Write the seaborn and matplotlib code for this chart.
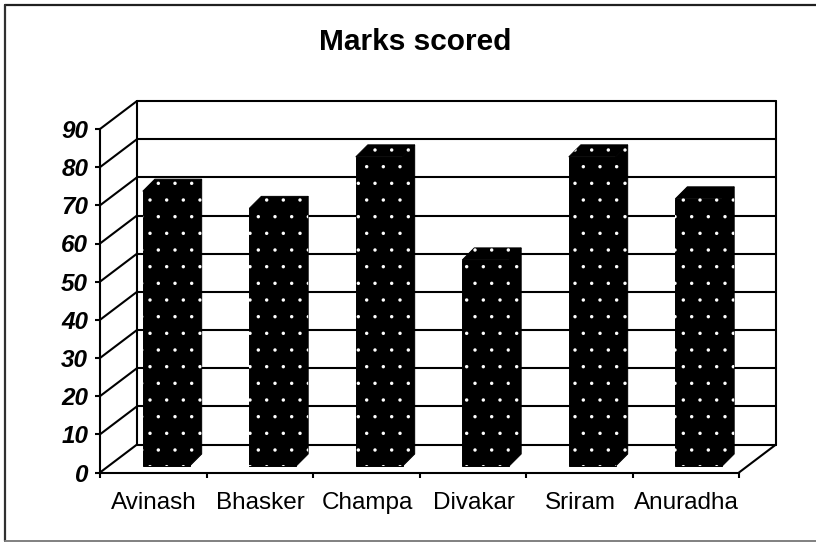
import matplotlib
matplotlib.use("Agg")
import matplotlib.pyplot as plt
from matplotlib.patches import Polygon
from matplotlib.lines import Line2D
from matplotlib.transforms import IdentityTransform
import pandas as pd
import seaborn as sns

names = ["Avinash", "Bhasker", "Champa", "Divakar", "Sriram", "Anuradha"]
marks = [72, 67.5, 81, 54, 81, 70]
y_ticks = [0, 10, 20, 30, 40, 50, 60, 70, 80, 90]
title_text = "Marks scored"

W, H = 816, 542
sns.set_theme(style="white", rc={"font.family": ["Liberation Sans", "DejaVu Sans"]})
plt.rcParams["hatch.color"] = "white"
plt.rcParams["hatch.linewidth"] = 0.05

fig = plt.figure(figsize=(W / 100, H / 100), dpi=100, facecolor="white")
L, R, T, B = 100, 739, 129, 472.5
ax = fig.add_axes([L / W, 1 - B / H, (R - L) / W, (B - T) / H])
ax.patch.set_alpha(0)

df = pd.DataFrame({"name": names, "marks": marks})
sns.barplot(data=df, x="name", y="marks", ax=ax, width=0.44, color="black",
            saturation=1, zorder=5)
ax.set_xlim(-0.5, 5.5)
ax.set_ylim(0, 90)
ax.set_xlabel("")
ax.set_ylabel("")

# depth offsets in pixels
WALL = (37, 28)
FRONT = (13, 6.5)
SIDE = (12, 12)

pt = ax.transData.transform
lw = 1.5
def seg(p, q, z=1, color="black", width=lw):
    fig.add_artist(Line2D([p[0], q[0]], [p[1], q[1]], color=color, lw=width,
                          transform=IdentityTransform(), zorder=z))
def shift(p, d):
    return (p[0] + d[0], p[1] + d[1])

# walls
for v in y_ticks:
    a = pt((-0.5, v))
    b = pt((5.5, v))
    seg(a, shift(a, WALL))
    seg(shift(a, WALL), shift(b, WALL))
a0, b0 = pt((-0.5, 0)), pt((5.5, 0))
a9, b9 = pt((-0.5, 90)), pt((5.5, 90))
seg(b0, shift(b0, WALL))
seg(shift(b0, WALL), shift(b9, WALL))
seg(shift(a0, WALL), shift(a9, WALL))

# bars
for bar in list(ax.patches):
    x0, x1 = bar.get_x(), bar.get_x() + bar.get_width()
    h = bar.get_height()
    bl, br = pt((x0, 0)), pt((x1, 0))
    tl, tr_ = pt((x0, h)), pt((x1, h))
    bl, br, tl, tr_ = [shift(p, FRONT) for p in (bl, br, tl, tr_)]
    faces = [
        [bl, br, tr_, tl],
        [br, shift(br, SIDE), shift(tr_, SIDE), tr_],
        [tl, tr_, shift(tr_, SIDE), shift(tl, SIDE)],
    ]
    for f in faces:
        fig.add_artist(Polygon(f, transform=IdentityTransform(), facecolor="black",
                               edgecolor="black", lw=0.7, zorder=6))
    for f in faces:
        fig.add_artist(Polygon(f, transform=IdentityTransform(), facecolor="none",
                               edgecolor="white", hatch=".", lw=0, zorder=7))
    bar.set_visible(False)

# axes
sns.despine(ax=ax)
for s in ("left", "bottom"):
    ax.spines[s].set_linewidth(lw)
    ax.spines[s].set_color("black")
ax.set_yticks(y_ticks)
ax.set_xticks([i - 0.5 for i in range(7)], minor=False)
ax.set_xticklabels([])
ax.tick_params(axis="both", which="major", length=3.5, width=lw, color="black",
               left=True, bottom=True)
ax.tick_params(axis="y", pad=5)
for lab in ax.get_yticklabels():
    lab.set_fontsize(17.5)
    lab.set_fontweight("bold")
    lab.set_fontstyle("italic")
    lab.set_color("black")
for i, n in enumerate(names):
    ax.annotate(n, xy=(i, 0), xycoords=ax.get_xaxis_transform(), xytext=(0.5, -22),
                textcoords="offset points", ha="center", va="center",
                fontsize=17.5, color="black")

fig.text(415 / W, 1 - 42 / H, title_text, ha="center", va="center",
         fontsize=21.5, fontweight="bold", color="black")

# outer frame: top and left dark, bottom grey, open on the right
seg((5, H - 5), (W, H - 5), z=10, color="#202020", width=1.6)
seg((5, H - 5), (5, 1), z=10, color="#303030", width=1.6)
seg((5, 1), (W, 1), z=10, color="#808080", width=1.4)

fig.savefig("out.png", dpi=100)
